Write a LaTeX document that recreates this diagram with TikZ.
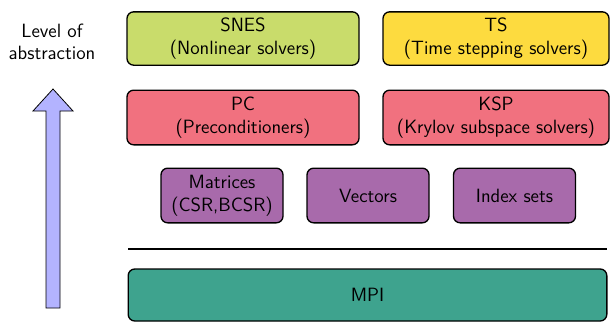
\documentclass[tikz,border=0pt]{standalone}
\usepackage{tikz}
\usetikzlibrary{positioning}
\renewcommand{\familydefault}{\sfdefault}

\definecolor{snesgreen}{HTML}{C9DC6B}
\definecolor{tsyellow}{HTML}{FDDB3F}
\definecolor{kspred}{HTML}{F1717F}
\definecolor{vecpurple}{HTML}{A86AAB}
\definecolor{mpiteal}{HTML}{3EA38E}
\definecolor{arrowblue}{HTML}{B3B3FF}

\begin{document}
\begin{tikzpicture}[x=0.75pt, y=-0.75pt, font=\fontsize{14.4}{17}\selectfont,
    layer/.style={draw, line width=1pt, rounded corners=5pt, align=center,
                  inner sep=0pt, minimum height=40pt},
    wide/.style={layer, minimum width=174pt},
    small/.style={layer, minimum width=91.5pt, minimum height=41pt}]
        \useasboundingbox (0,0) rectangle (610,322);

        \node(Lbl) at (52, 42) [align=center] {Level of\\abstraction};

        \node(SNES) at (243, 38.5) [wide, fill=snesgreen] {SNES\\(Nonlinear solvers)};
        \node(TS)   at (496, 38.5) [wide, fill=tsyellow, minimum width=169.5pt] {TS\\(Time stepping solvers)};
        \node(PC)   at (243, 117.5) [wide, fill=kspred, minimum height=41pt] {PC\\(Preconditioners)};
        \node(KSP)  at (496, 117.5) [wide, fill=kspred, minimum width=169.5pt, minimum height=41pt] {KSP\\(Krylov subspace solvers)};

        \node(Mat) at (222, 195.5)   [small, fill=vecpurple] {Matrices\\(CSR,BCSR)};
        \node(Vec) at (368, 195.5)   [small, fill=vecpurple] {Vectors};
        \node(IS)  at (514.5, 195.5) [small, fill=vecpurple] {Index sets};

        \coordinate (L1) at (128, 249);
        \coordinate (L2) at (607, 249);
        \draw[line width=1.5pt] (L1) -- (L2);

        \node(MPI) at (367.5, 295) [layer, fill=mpiteal, minimum width=359pt, minimum height=39pt] {MPI};

        \draw[fill=arrowblue, line width=0.6pt]
              (46, 308) -- (46, 111) -- (33, 111) -- (53, 89) -- (73, 111)
              -- (60, 111) -- (60, 308) -- cycle;
      \end{tikzpicture}
\end{document}
